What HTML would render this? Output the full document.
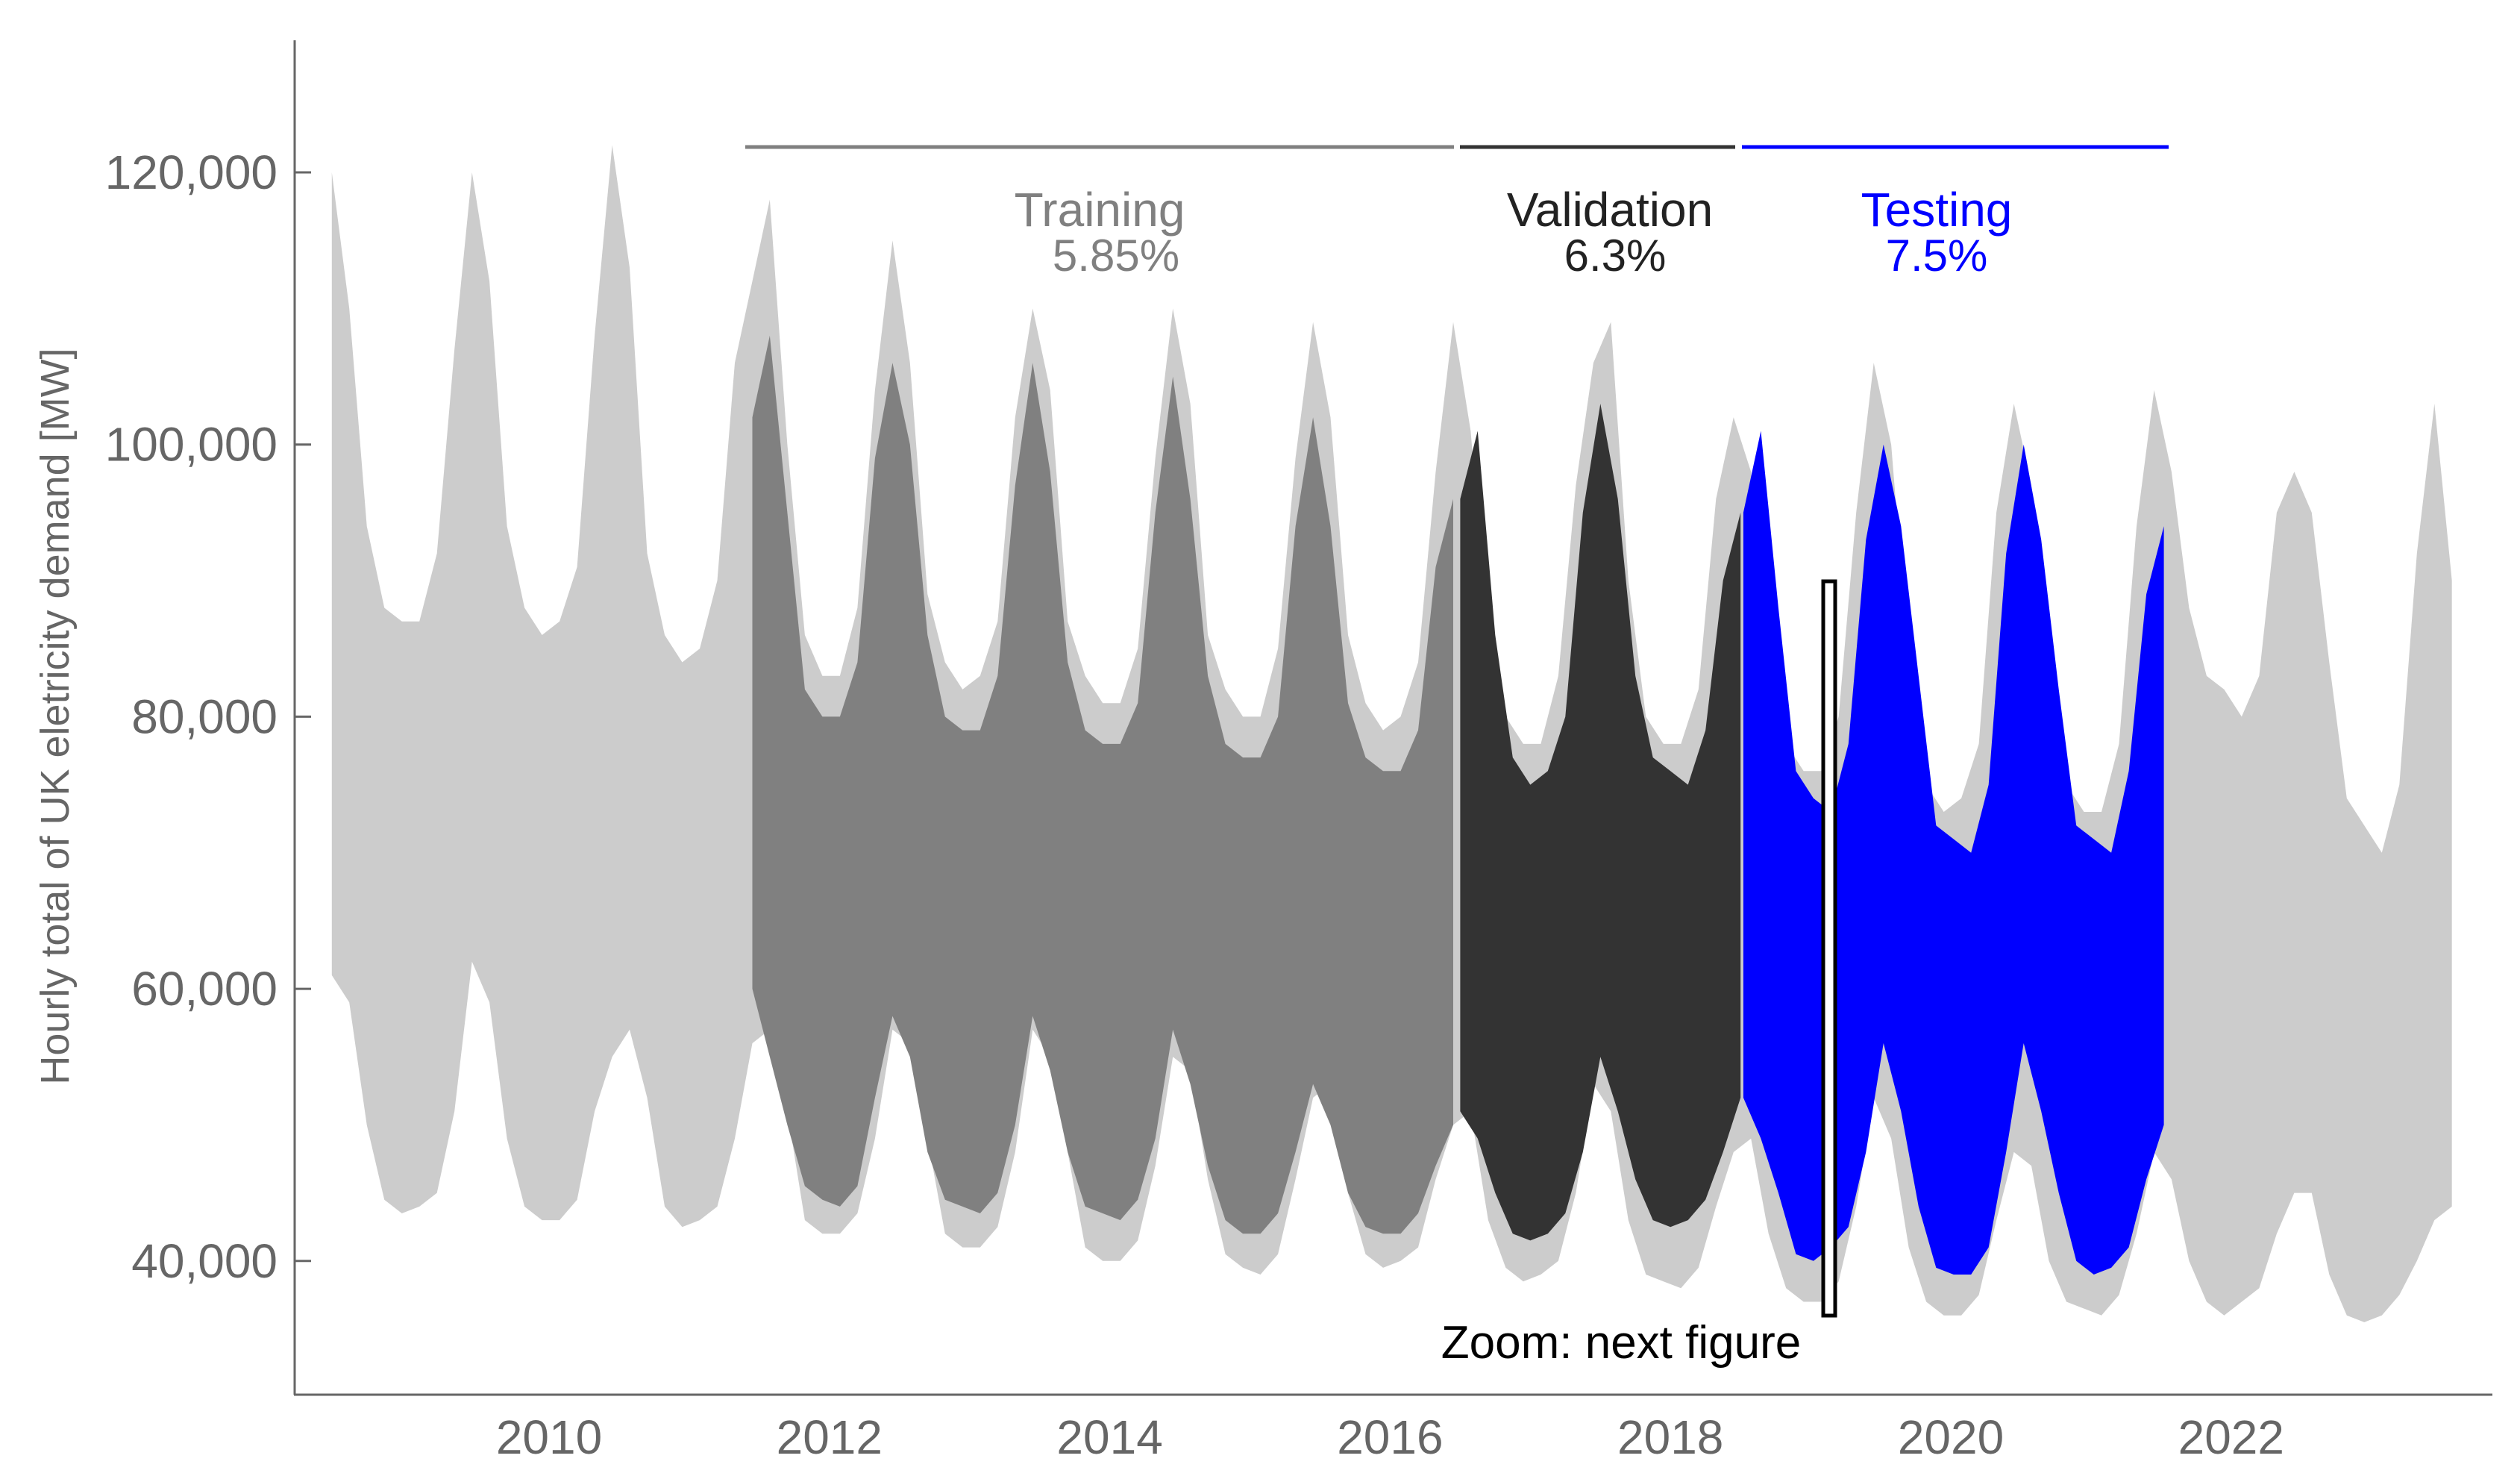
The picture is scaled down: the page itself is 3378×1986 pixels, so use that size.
<!DOCTYPE html>
<html><head><meta charset="utf-8"><style>
html,body{margin:0;padding:0;background:#fff;}
svg{display:block;font-family:"Liberation Sans",sans-serif;}
</style></head><body>
<svg id="chart" width="3378" height="1986" viewBox="0 0 3378 1986" xmlns="http://www.w3.org/2000/svg">
<g id="series"></g>
<g id="axes"></g>
<g>
<line x1="999" y1="197" x2="1949" y2="197" stroke="#808080" stroke-width="5"/>
<line x1="1957" y1="197" x2="2326" y2="197" stroke="#333" stroke-width="5"/>
<line x1="2335" y1="197" x2="2907" y2="197" stroke="#0000ff" stroke-width="5"/>
<text x="1474" y="303" font-size="64" fill="#808080" text-anchor="middle">Training</text>
<text x="1496" y="363" font-size="60" fill="#808080" text-anchor="middle">5.85%</text>
<text x="2158" y="303" font-size="64" fill="#222" text-anchor="middle">Validation</text>
<text x="2165" y="363" font-size="60" fill="#222" text-anchor="middle">6.3%</text>
<text x="2596" y="303" font-size="64" fill="#0000ff" text-anchor="middle">Testing</text>
<text x="2596" y="363" font-size="60" fill="#0000ff" text-anchor="middle">7.5%</text>
<rect x="2444" y="779" width="16" height="984" fill="#fff" stroke="#000" stroke-width="5"/>
<text x="2173" y="1820" font-size="62" fill="#000" text-anchor="middle">Zoom: next figure</text>
</g>
</svg>
<script>
const NS='http://www.w3.org/2000/svg';
const step=0.125;
const allStart=2008.45;
const allUpper=[120,110,94,88,87,87,92,107, 120,112,94,88,86,87,91,108, 122,113,92,86,84,85,90,106, 112,118,100,86,83,83,88,104, 115,106,89,84,82,83,87,102, 110,104,87,83,81,81,85,99, 110,103,86,82,80,80,85,99, 109,102,86,81,79,80,84,98, 109,101,85,80,78,78,83,97, 106,109,90,80,78,78,82,96, 102,98,84,78,76,76,80,95, 106,100,84,75,73,74,78,95, 103,97,82,75,73,73,78,94, 104,98,88,83,82,80,83,95, 98,95,84,74,72,70,75,92, 103,90];
const allLower=[61,59,50,44.5,43.5,44,45,51, 62,59,49,44,43,43,44.5,51, 55,57,52,44,42.5,43,44,49, 56,57,51,43,42,42,43.5,49, 57,56,49,42,41,41,42.5,48, 57,55,48,41,40,40,41.5,47, 55,54,46,40.5,39.5,39,40.5,46, 52,53,45,40.5,39.5,40,41,46, 50,51,43,39.5,38.5,39,40,45, 53,51,43,39,38.5,38,39.5,44, 48,49,42,38,37,37,38.5,44, 52,49,41,37,36,36,37.5,43, 48,47,40,37,36.5,36,37.5,42, 48,46,40,37,36,37,38,42, 45,45,39,36,35.5,36,37.5,40, 43,44];
const trainStart=2011.45;
const trainUpper=[102,108,95,82,80,80,84,99, 106,100,86,80,79,79,83,97, 106,98,84,79,78,78,81,95, 105,96,83,78,77,77,80,94, 102,94,81,77,76,76,79,91, 96];
const trainLower=[60,55,50,45.5,44.5,44,45.5,52, 58,55,48,44.5,44,43.5,45,50, 58,54,48,44,43.5,43,44.5,49, 57,53,47,43,42,42,43.5,48, 53,50,45,42.5,42,42,43.5,47, 50];
const valStart=2016.5;
const valUpper=[96,101,86,77,75,76,80,95, 103,96,83,77,76,75,79,90, 95];
const valLower=[51,49,45,42,41.5,42,43.5,48, 55,51,46,43,42.5,43,44.5,48, 52];
const testStart=2018.52;
const testUpper=[95,101,88,76,74,73,78,93, 100,94,83,72,71,70,75,92, 100,93,82,72,71,70,76,89, 94];
const testLower=[52,49,45,40.5,40,41,42.5,48, 56,51,44,39.5,39,39,41,48, 56,51,45,40,39,39.5,41,46, 50];
const yTicks=[40000,60000,80000,100000,120000];
const yTickLabels=['40,000','60,000','80,000','100,000','120,000'];
const xTicks=[2010,2012,2014,2016,2018,2020,2022];

function xs(yr){return 736+(yr-2010)*187.9;}
function ys(v){return 231+(120000-v)/20000*364.7;}

function band(start,up,lo,color,name){
  let d='';
  for(let i=0;i<up.length;i++){d+=(i?'L':'M')+xs(start+i*step).toFixed(1)+','+ys(up[i]*1000).toFixed(1);}
  for(let i=lo.length-1;i>=0;i--){d+='L'+xs(start+i*step).toFixed(1)+','+ys(lo[i]*1000).toFixed(1);}
  d+='Z';
  const p=document.createElementNS(NS,'path');
  p.setAttribute('d',d);p.setAttribute('fill',color);
  
  
  document.getElementById('series').appendChild(p);
}
band(allStart,allUpper,allLower,'#cccccc','full-series-band');
band(trainStart,trainUpper,trainLower,'#808080','training-series-band');
band(valStart,valUpper,valLower,'#333333','validation-series-band');
band(testStart,testUpper,testLower,'#0000ff','testing-series-band');

const ax=document.getElementById('axes');
function el(tag,attrs){const e=document.createElementNS(NS,tag);for(const k in attrs)e.setAttribute(k,attrs[k]);ax.appendChild(e);return e;}
const yl=el('line',{x1:395,y1:54,x2:395,y2:1869,stroke:'#666','stroke-width':3});


const xl=el('line',{x1:394,y1:1869,x2:3341,y2:1869,stroke:'#666','stroke-width':3});


yTicks.forEach((v,i)=>{
  const t=el('line',{x1:395,y1:ys(v),x2:417,y2:ys(v),stroke:'#666','stroke-width':3});
  
  
  const l=el('text',{x:372,y:ys(v)+22,'font-size':64,fill:'#666','text-anchor':'end'});
  l.textContent=yTickLabels[i];
  
  
});
xTicks.forEach(v=>{
  const l=el('text',{x:xs(v),y:1948,'font-size':64,fill:'#666','text-anchor':'middle'});
  l.textContent=String(v);
  
  
});
const yt=el('text',{x:0,y:0,'font-size':54,fill:'#666','text-anchor':'middle',transform:'translate(92,960) rotate(-90)'});
yt.textContent='Hourly total of UK eletricity demand [MW]';


</script>
</body></html>
